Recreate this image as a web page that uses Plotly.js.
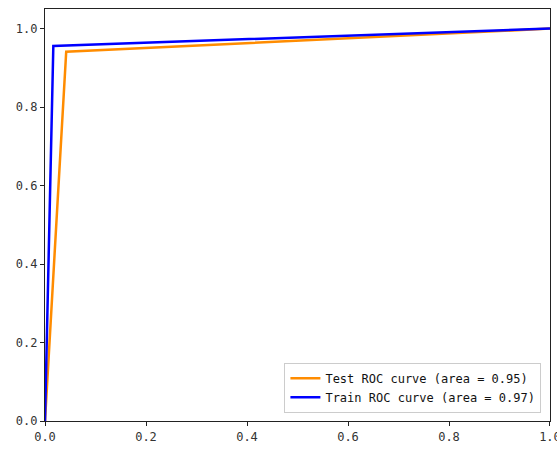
<!DOCTYPE html>
<html>
<head>
<meta charset="utf-8">
<script src="https://cdn.plot.ly/plotly-3.0.1.min.js"></script>
<style>html,body{margin:0;padding:0;background:#fff;}#chart{width:557px;height:453px;overflow:hidden;}</style>
</head>
<body>
<div id="chart"></div>
<script>
const testFpr = [0.0, 0.042, 1.0];
const testTpr = [0.0, 0.941, 1.0];
const trainFpr = [0.0, 0.0165, 1.0];
const trainTpr = [0.0, 0.956, 1.0];
const testName = "Test ROC curve (area = 0.95)";
const trainName = "Train ROC curve (area = 0.97)";
const tickVals = [0, 0.2, 0.4, 0.6, 0.8, 1.0];
const tickText = ["0.0", "0.2", "0.4", "0.6", "0.8", "1.0"];

const font = "DejaVu Sans Mono, monospace";
const traces = [
  {x: testFpr, y: testTpr, mode: "lines", name: testName,
   line: {color: "#ff8c00", width: 2.5}},
  {x: trainFpr, y: trainTpr, mode: "lines", name: trainName,
   line: {color: "#0000ff", width: 2.5}}
];
const axisCommon = {
  showgrid: false, zeroline: false, showline: true, mirror: true,
  linecolor: "#222", linewidth: 1.2, ticks: "outside", ticklen: 4,
  tickcolor: "#222", tickvals: tickVals, ticktext: tickText,
  ticklabeloverflow: "allow",
  tickfont: {family: font, size: 12, color: "#333"}
};
const layout = {
  width: 557, height: 453,
  margin: {l: 45, r: 7, t: 9, b: 32},
  paper_bgcolor: "#fff", plot_bgcolor: "#fff",
  xaxis: Object.assign({}, axisCommon, {range: [0, 1.00001]}),
  yaxis: Object.assign({}, axisCommon, {range: [0, 1.05]}),
  showlegend: true,
  legend: {x: 0.983, y: 0.02, xanchor: "right", yanchor: "bottom",
    bgcolor: "rgba(255,255,255,0.8)", bordercolor: "#ccc", borderwidth: 1,
    font: {family: font, size: 12, color: "#111"}, tracegroupgap: 0}
};
Plotly.newPlot("chart", traces, layout, {displayModeBar: false, staticPlot: true});
</script>
</body>
</html>
